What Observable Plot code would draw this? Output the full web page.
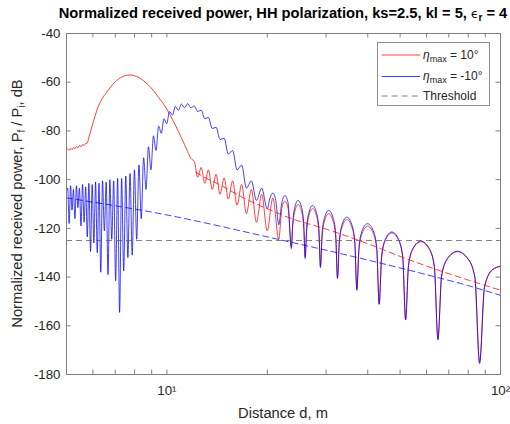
<!DOCTYPE html>
<html><head><meta charset="utf-8">
<script src="https://cdn.jsdelivr.net/npm/d3@7"></script>
<script src="https://cdn.jsdelivr.net/npm/@observablehq/plot@0.6"></script>
<style>
body{margin:0;background:#fff;}
#wrap{position:relative;width:510px;height:424px;overflow:hidden;background:#fff;}
#chart{position:absolute;left:0;top:0;}
#overlay{position:absolute;left:0;top:0;font-family:"Liberation Sans",Arial,sans-serif;}
</style></head><body>
<div id="wrap"><div id="chart"></div>
<svg id="overlay" width="510" height="424">
  <text x="283" y="17.5" text-anchor="middle" font-weight="bold" font-size="14.7" fill="#000">Normalized received power, HH polarization, ks=2.5, kl = 5, <tspan font-weight="normal" font-family="DejaVu Sans" font-size="12">ϵ</tspan><tspan font-size="10" dy="3">r</tspan><tspan dy="-3"> = 4</tspan></text>
  <text transform="translate(22,203.5) rotate(-90)" text-anchor="middle" font-size="14.7" fill="#262626">Normalized received power, P<tspan font-size="10" dy="3">f</tspan><tspan dy="-3"> / P</tspan><tspan font-size="10" dy="3">i</tspan><tspan dy="-3">, dB</tspan></text>
  <text x="283" y="418" text-anchor="middle" font-size="14.7" fill="#262626">Distance d, m</text>
  <rect x="377.5" y="42.5" width="112" height="63" fill="#fff" stroke="#8f8f8f" stroke-width="1"/>
  <line x1="381.7" x2="420" y1="55" y2="55" stroke="#ff0000" stroke-width="0.75"/>
  <line x1="381.7" x2="420" y1="76.5" y2="76.5" stroke="#0000ff" stroke-width="0.75"/>
  <line x1="381.7" x2="420" y1="96" y2="96" stroke="#555" stroke-width="0.75" stroke-dasharray="6,4"/>
  <text x="423" y="58.5" font-size="12" fill="#262626"><tspan font-style="italic">η</tspan><tspan font-size="9" dy="3">max</tspan><tspan dy="-3"> = 10°</tspan></text>
  <text x="423" y="79.5" font-size="12" fill="#262626"><tspan font-style="italic">η</tspan><tspan font-size="9" dy="3">max</tspan><tspan dy="-3"> = -10°</tspan></text>
  <text x="423" y="100" font-size="12" fill="#262626">Threshold</text>
</svg>
</div>
<script>
// ---- data (distance d in m, power in dB) ----
const redD = [5.000,5.043,5.092,5.143,5.194,5.246,5.300,5.355,5.410,5.467,5.526,5.585,5.646,5.708,5.771,5.836,5.902,5.970,6.040,6.111,6.183,6.258,6.334,6.412,6.575,6.745,6.925,7.115,7.315,7.528,7.752,7.991,8.244,8.515,8.803,9.112,9.444,9.800,10.18,10.60,11.05,11.29,11.54,11.80,12.08,12.37,12.67,12.99,13.32,13.67,14.04,14.43,14.84,15.28,15.74,16.23,16.75,17.31,17.91,18.55,19.24,19.98,20.78,21.64,22.10,22.58,23.08,23.61,23.83,24.16,24.73,25.34,25.71,25.97,26.23,26.64,27.34,28.08,28.54,28.86,29.18,29.68,30.55,31.48,32.06,32.46,32.87,33.51,34.63,35.82,36.58,37.10,37.64,38.47,39.95,41.55,42.57,43.28,44.02,45.17,47.22,49.47,50.92,51.94,53.00,54.67,57.71,61.11,63.34,64.93,66.59,69.25,74.20,79.91,83.77,86.57,89.55,94.44,100];
const redP = [-88.0,-87.4,-88.0,-87.1,-87.7,-86.8,-87.3,-86.4,-86.9,-86.0,-86.5,-85.6,-86.0,-85.1,-85.0,-82.5,-80.3,-77.8,-75.5,-73.2,-71.0,-69.3,-67.8,-66.5,-64.4,-62.4,-60.5,-59.0,-57.9,-57.2,-57.0,-57.3,-58.1,-59.4,-61.2,-63.4,-66.3,-69.2,-73.0,-77.6,-82.8,-85.6,-88.5,-91.3,-92.5,-99.0,-95.0,-101.5,-96.0,-104.0,-97.8,-106.0,-99.3,-108.0,-100.5,-110.5,-102.0,-114.0,-104.0,-117.5,-106.0,-121.0,-107.5,-124.5,-111.8,-108.8,-111.8,-127.5,-119,-113.2,-110.2,-113.2,-119.5,-131.5,-121.5,-114.9,-111.9,-114.9,-121.5,-135.5,-123.7,-117,-114,-117,-123.7,-140,-126.3,-119.4,-116.4,-119.4,-126.3,-145,-129,-122.1,-119.1,-122.1,-129,-151,-132,-124.9,-121.9,-124.9,-132,-157.5,-135.3,-128.5,-125.5,-128.5,-135.8,-165.5,-139.7,-132.6,-129.6,-132.6,-140.1,-175,-144.2,-137.2,-135.7];

const blueD = [5.000,5.043,5.092,5.143,5.194,5.246,5.300,5.355,5.410,5.467,5.526,5.585,5.646,5.708,5.771,5.836,5.902,5.970,6.040,6.111,6.183,6.258,6.334,6.412,6.493,6.575,6.659,6.745,6.834,6.925,7.019,7.115,7.214,7.315,7.420,7.528,7.638,7.752,7.870,7.991,8.116,8.244,8.377,8.515,8.657,8.803,8.955,9.112,9.275,9.444,9.619,9.800,9.988,10.18,10.39,10.60,10.82,11.05,11.29,11.54,11.80,12.08,12.37,12.67,12.99,13.32,13.67,14.04,14.43,14.84,15.28,15.74,16.23,16.75,17.31,17.91,18.55,19.24,19.98,20.37,20.78,21.20,21.64,22.10,22.58,23.08,23.61,23.83,24.16,24.73,25.34,25.71,25.97,26.23,26.64,27.34,28.08,28.54,28.86,29.18,29.68,30.55,31.48,32.06,32.46,32.87,33.51,34.63,35.82,36.58,37.10,37.64,38.47,39.95,41.55,42.57,43.28,44.02,45.17,47.22,49.47,50.92,51.94,53.00,54.67,57.71,61.11,63.34,64.93,66.59,69.25,74.20,79.91,83.77,86.57,89.55,94.44,100];
const blueP = [-105,-103.5,-118,-102.5,-112.5,-104,-116,-102.5,-111.5,-103.5,-119,-102,-117.5,-103,-123.5,-101.5,-129.5,-102,-126,-101,-130,-101.5,-138,-100.5,-121,-101,-139,-100,-124.5,-100.5,-141.5,-99.5,-154.5,-99.5,-137.5,-98.5,-132,-97.5,-131,-96,-124.5,-94,-116,-91,-104,-86.5,-96,-82,-88,-78,-81,-75,-77,-72,-73.5,-70,-71.5,-69,-70.5,-68.8,-70.5,-69.8,-72,-71.5,-75,-74.5,-79,-78.5,-83.5,-83,-89.5,-88,-96,-94,-103.5,-100.5,-108.5,-103.5,-112,-107.5,-105.5,-108.5,-118.5,-109.5,-106.5,-109.5,-128.3,-118,-111.5,-108.5,-111.5,-118,-132.4,-120,-113.6,-110.6,-113.6,-120,-136.1,-122.3,-115.6,-112.6,-115.6,-122.3,-140.6,-125.3,-118.4,-115.4,-118.4,-125.3,-145.4,-128,-121,-118.1,-121,-128,-151.2,-131.5,-124.5,-121.5,-124.5,-131.5,-157.5,-135,-128.2,-125.2,-128.2,-135.5,-165.7,-139.5,-132.5,-129.4,-132.5,-140,-175.5,-144,-137,-135.5];

const redDashD = [12.2,12.9,14.3,16.7,20.5,23.2,30,40,50,63,80,100];
const redDashP = [-96.9,-98.9,-101.9,-107,-112.6,-115.6,-120.3,-126.3,-131.5,-136.5,-141.2,-145.4];
const blueDashD = [5,10,20,40,60,80,100];
const blueDashP = [-107.5,-114.5,-123.5,-133,-139,-143.5,-147.5];
const threshold = -125;

const xTicks = [6,7,8,9,10,20,30,40,50,60,70,80,90];
const xLabelVals = [10,100];
const xLabelText = ["10\u00B9","10\u00B2"];
const yTicks = [-40,-60,-80,-100,-120,-140,-160,-180];

// ---- layout ----
const W = 510, H = 424, mt = 33, mr = 10, mb = 50, ml = 66;
const pw = W - ml - mr, ph = H - mt - mb, tl = 4.5;
const axisColor = "#808080", textColor = "#262626";

const toRows = (D, P) => D.map((d, i) => ({d, p: P[i]}));
const red = toRows(redD, redP), blue = toRows(blueD, blueP);
const redDash = toRows(redDashD, redDashP), blueDash = toRows(blueDashD, blueDashP);
const inner = yTicks.filter(v => v > -180 && v < -40);

const chart = Plot.plot({
  width: W, height: H, marginTop: mt, marginRight: mr, marginBottom: mb, marginLeft: ml,
  x: {type: "log", domain: [5, 100], axis: null},
  y: {domain: [-180, -40], axis: null},
  style: {background: "transparent", fontFamily: "Liberation Sans, Arial, sans-serif"},
  marks: [
    Plot.line(red, {x: "d", y: "p", stroke: "#ff0000", strokeWidth: 0.75, curve: "monotone-x", clip: true}),
    Plot.line(blue, {x: "d", y: "p", stroke: "#0000ff", strokeWidth: 0.75, curve: "monotone-x", clip: true}),
    Plot.line(redDash, {x: "d", y: "p", stroke: "#ff0000", strokeWidth: 0.75, strokeDasharray: "6,4", curve: "monotone-x"}),
    Plot.line(blueDash, {x: "d", y: "p", stroke: "#0000ff", strokeWidth: 0.75, strokeDasharray: "6,4", curve: "monotone-x"}),
    Plot.ruleY([threshold], {stroke: "#555", strokeWidth: 0.75, strokeDasharray: "6,4"}),
    Plot.tickX(xTicks, {x: d => d, insetTop: ph - tl, stroke: axisColor}),
    Plot.tickX(xTicks, {x: d => d, insetBottom: ph - tl, stroke: axisColor}),
    Plot.tickY(inner, {y: d => d, insetRight: pw - tl, stroke: axisColor}),
    Plot.tickY(inner, {y: d => d, insetLeft: pw - tl, stroke: axisColor}),
    Plot.frame({stroke: axisColor}),
    Plot.text(yTicks, {y: d => d, frameAnchor: "left", textAnchor: "end", dx: -6, text: d => String(d), fontSize: 13.3, fill: textColor}),
    Plot.text(xLabelVals, {x: d => d, frameAnchor: "bottom", dy: 20, text: (d, i) => xLabelText[i], fontSize: 13.3, fill: textColor})
  ]
});
document.getElementById("chart").append(chart);
</script>
</body></html>
